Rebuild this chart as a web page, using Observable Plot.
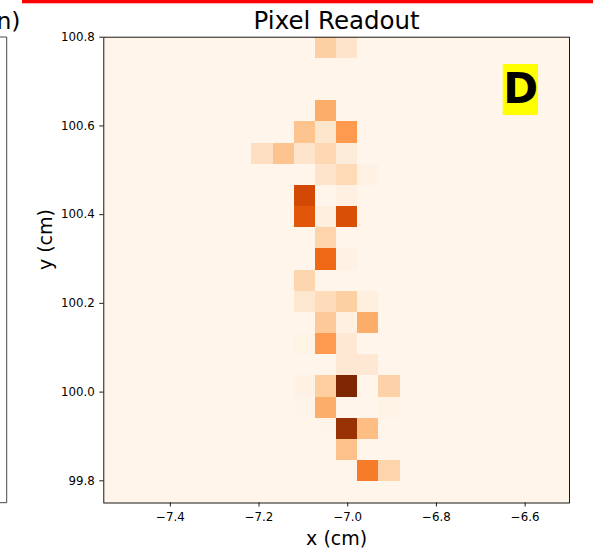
<!DOCTYPE html>
<html>
<head>
<meta charset="utf-8">
<script src="https://cdn.jsdelivr.net/npm/d3@7"></script>
<script src="https://cdn.jsdelivr.net/npm/@observablehq/plot@0.6"></script>
<style>
  html, body { margin: 0; padding: 0; background: #ffffff; }
  #wrap { position: relative; width: 600px; height: 548px; overflow: hidden; font-family: "DejaVu Sans", sans-serif; }
  #wrap svg { position: absolute; left: 0; top: 0; }
</style>
</head>
<body>
<div id="wrap"></div>
<script>
// ---- data ----
const titleText = "Pixel Readout";
const xLabel = "x (cm)";
const yLabel = "y (cm)";
const panelTag = "D";
const xExtent = [-7.55, -6.5];
const yExtent = [99.75, 100.8];
const nBins = 22;
const xTicks = [-7.4, -7.2, -7.0, -6.8, -6.6];
const yTicks = [99.8, 100.0, 100.2, 100.4, 100.6, 100.8];

// pixel column index (from left), row index (from top), normalized readout
const cellCol = [10, 11,
  10,
  9, 10, 11,
  7, 8, 9, 10, 11,
  10, 11, 12,
  9, 11,
  9, 10, 11,
  10,
  10, 11,
  9,
  9, 10, 11, 12,
  10, 11, 12,
  9, 10, 11,
  11, 12,
  9, 10, 11, 13,
  9, 10, 13,
  10, 11, 12,
  11,
  12, 13];
const cellRow = [0, 0,
  3,
  4, 4, 4,
  5, 5, 5, 5, 5,
  6, 6, 6,
  7, 7,
  8, 8, 8,
  9,
  10, 10,
  11,
  12, 12, 12, 12,
  13, 13, 13,
  14, 14, 14,
  15, 15,
  16, 16, 16, 16,
  17, 17, 17,
  18, 18, 18,
  19,
  20, 20];
const cellValue = [0.24, 0.13,
  0.38,
  0.29, 0.12, 0.45,
  0.16, 0.29, 0.13, 0.20, 0.07,
  0.13, 0.19, 0.03,
  0.76, 0.04,
  0.70, 0.05, 0.73,
  0.22,
  0.63, 0.03,
  0.21,
  0.11, 0.18, 0.24, 0.05,
  0.27, 0.04, 0.38,
  0.02, 0.45, 0.10,
  0.10, 0.10,
  0.03, 0.25, 1.00, 0.23,
  0.01, 0.38, 0.02,
  0.01, 0.92, 0.32,
  0.30,
  0.56, 0.22];

// ---- table for the library ----
const dx = (xExtent[1] - xExtent[0]) / nBins;
const dy = (yExtent[1] - yExtent[0]) / nBins;
const cells = cellCol.map((c, i) => ({
  x1: xExtent[0] + c * dx,
  x2: xExtent[0] + (c + 1) * dx,
  y1: yExtent[1] - cellRow[i] * dy,
  y2: yExtent[1] - (cellRow[i] + 1) * dy,
  v: cellValue[i]
}));

const fmt = d3.format(".1f");

const chart = Plot.plot({
  width: 600,
  height: 548,
  marginLeft: 103.3,
  marginRight: 31,
  marginTop: 36.7,
  marginBottom: 45.5,
  style: { fontFamily: "DejaVu Sans, sans-serif", fontSize: "11.5px", color: "#000", background: "transparent" },
  x: { domain: xExtent },
  y: { domain: yExtent },
  color: { type: "linear", scheme: "oranges", domain: [0, 1] },
  marks: [
    Plot.frame({ fill: d3.interpolateOranges(0) }),
    Plot.rect(cells, { x1: "x1", x2: "x2", y1: "y1", y2: "y2", fill: "v", shapeRendering: "crispEdges" }),
    Plot.axisX(xTicks, { tickFormat: fmt, tickSize: 4, tickPadding: 5.5, label: null, stroke: "#000", strokeWidth: 0.9, fontSize: 11.8 }),
    Plot.axisY(yTicks, { tickFormat: fmt, tickSize: 4, tickPadding: 5, label: null, stroke: "#000", strokeWidth: 0.9, fontSize: 11.8 }),
    Plot.frame({ stroke: "#000", strokeWidth: 0.9 }),
    Plot.text([titleText], { frameAnchor: "top", dy: -16, fontSize: 24.5, lineAnchor: "middle", fill: "#000" }),
    Plot.text([xLabel], { frameAnchor: "bottom", dy: 35.5, fontSize: 19, lineAnchor: "middle", fill: "#000" }),
    Plot.text([yLabel], { frameAnchor: "left", dx: -58, rotate: -90, fontSize: 19, lineAnchor: "middle", fill: "#000" })
  ]
});

document.getElementById("wrap").appendChild(chart);

// decorations from neighbouring panels in the original figure
const svg = d3.select(chart);
svg.append("rect").attr("x", 22).attr("y", 0).attr("width", 571).attr("height", 3.3).attr("fill", "#ff0000");
svg.append("text").attr("x", 20.5).attr("y", 29).attr("text-anchor", "end")
  .attr("font-size", 23.5).attr("font-family", "DejaVu Sans, sans-serif").attr("fill", "#000").text("n)");
svg.append("path").attr("d", "M0,37 H6.7 V502.7 H0").attr("fill", "none").attr("stroke", "#333").attr("stroke-width", 0.9);

// panel tag
const g = svg.append("g");
g.append("rect").attr("x", 502.7).attr("y", 64).attr("width", 35.3).attr("height", 51).attr("fill", "#ffff00");
g.append("text").attr("x", 520.6).attr("y", 103).attr("text-anchor", "middle")
  .attr("font-size", 42).attr("font-weight", "bold").attr("font-family", "DejaVu Sans, sans-serif").attr("fill", "#000").text(panelTag);
</script>
</body>
</html>
